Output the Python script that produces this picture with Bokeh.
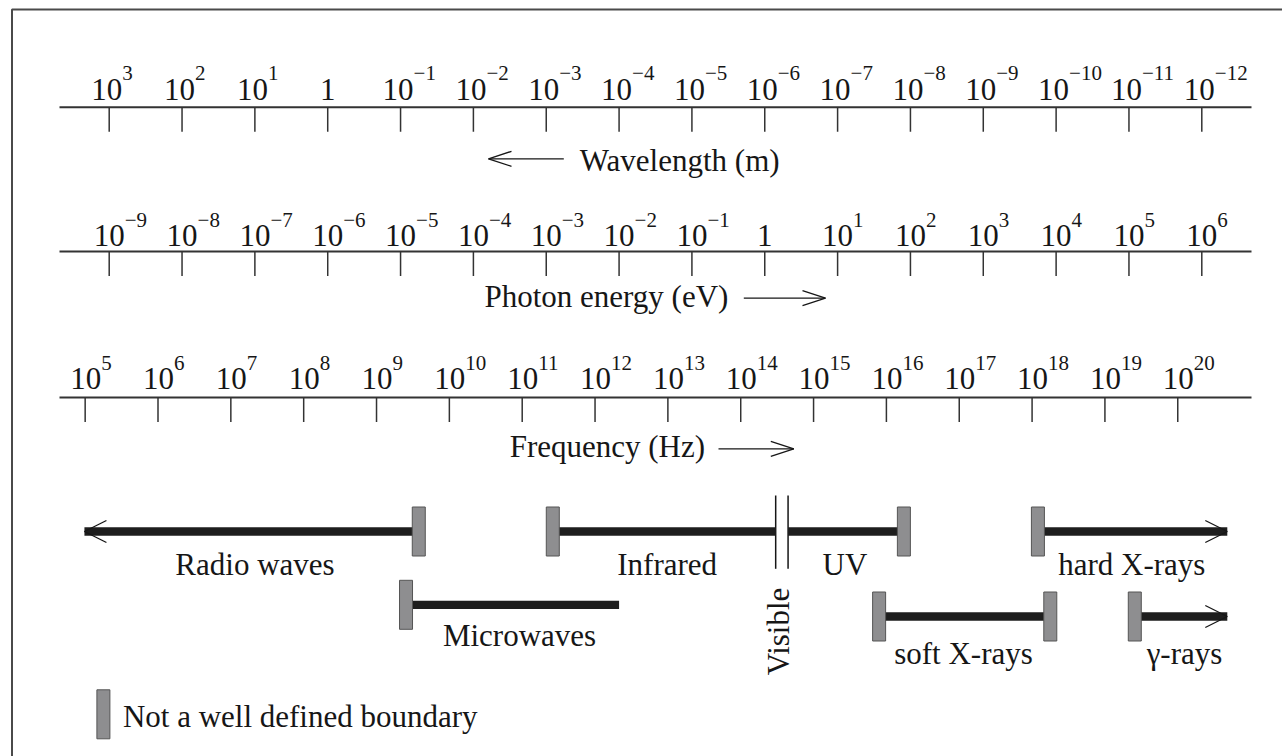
from bokeh.plotting import figure
from bokeh.models import Range1d
from bokeh.core.properties import value
from bokeh.embed import file_html
from bokeh.resources import INLINE

# ---------------------------------------------------------------- data
# Decade exponents printed along the three scales
wavelength_exponents = [3, 2, 1, 0, -1, -2, -3, -4, -5, -6, -7, -8, -9, -10, -11, -12]
energy_exponents = [-9, -8, -7, -6, -5, -4, -3, -2, -1, 0, 1, 2, 3, 4, 5, 6]
frequency_exponents = [5, 6, 7, 8, 9, 10, 11, 12, 13, 14, 15, 16, 17, 18, 19, 20]

# Scale alignment: log10 E[eV] = -log10 λ[m] - ENERGY_SHIFT,
#                  log10 f[Hz] = -log10 λ[m] + FREQ_SHIFT
ENERGY_SHIFT = 6.0
FREQ_SHIFT = 8.33

# Spectral bands, limits given as log10(wavelength / m)
band_names = ["Radio waves", "Microwaves", "Infrared", "Visible", "UV",
              "soft X-rays", "hard X-rays", "γ-rays"]
band_long_end = [3.34, -1.075, -3.09, -6.15, -6.32, -7.57, -9.75, -11.08]
band_short_end = [-1.25, -4.0, -6.15, -6.32, -7.91, -9.92, -12.35, -12.35]
# True where the limit is not a well defined boundary
band_long_fuzzy = [False, True, True, False, False, True, True, True]
band_short_fuzzy = [True, False, False, False, True, True, False, False]
# True where the band continues beyond the drawn range
band_long_open = [True, False, False, False, False, False, False, False]
band_short_open = [False, False, False, False, False, False, True, True]

# ---------------------------------------------------------------- layout
PX = 72.84                      # pixels per decade
U0 = -3.0 - 108.7 / PX          # left edge of the canvas, in decades
W, H = 1282, 756
INK = "#161616"
FONT = value("Liberation Serif")
FS_PX, SUP_PX = 31, 21
FS, FS_SUP = f"{FS_PX}px", f"{SUP_PX}px"
MID = 0.3375                    # baseline -> em-box middle, in em
SUP_RISE = 19                   # superscript baseline above the main one


def px(d):
    """Horizontal pixel distance -> decades."""
    return d / PX


def at(x):
    """Horizontal canvas pixel -> decades."""
    return U0 + x / PX


def mid(baseline, size=FS_PX):
    """Vertical centre of a line of text sitting on the given baseline."""
    return baseline - MID * size


p = figure(width=W, height=H, x_range=Range1d(U0, U0 + W / PX),
           y_range=Range1d(H, 0), output_backend="svg", toolbar_location=None,
           min_border=0, x_axis_type=None, y_axis_type=None,
           outline_line_color=None, background_fill_color="white",
           border_fill_color="white")
p.grid.visible = False

# frame (top and left rules)
p.line(x=[at(11.5), at(11.5), at(W)], y=[H, 9, 9], line_color="#4a4a4a",
       line_width=2)

AX_START, AX_END = at(59), at(1251)


def head(tip, y, direction, length, half):
    back = tip - direction * px(length)
    return [back, tip, back], [y - half, y, y + half]


def draw_scale(positions, exponents, line_y, base_y, dx):
    p.segment(x0=[AX_START], x1=[AX_END], y0=[line_y], y1=[line_y],
              line_color="#333333", line_width=2)
    p.segment(x0=positions, x1=positions, y0=[line_y] * len(positions),
              y1=[line_y + 24.5] * len(positions), line_color="#333333",
              line_width=1.5)
    base_x, base_t, sup_x, sup_t = [], [], [], []
    for u, e in zip(positions, exponents):
        if e == 0:
            base_x.append(u)
            base_t.append("1")
            continue
        base_x.append(u + px(dx))
        base_t.append("10")
        sup_x.append(u + px(dx + 15.5))
        sup_t.append(str(e).replace("-", "\u2212"))
    p.text(x=base_x, y=[mid(base_y)] * len(base_x), text=base_t,
           text_font=FONT, text_font_size=FS, text_align="center",
           text_baseline="middle", text_color=INK)
    p.text(x=sup_x, y=[mid(base_y - SUP_RISE, SUP_PX)] * len(sup_x),
           text=sup_t, text_font=FONT, text_font_size=FS_SUP,
           text_align="left", text_baseline="middle", text_color=INK)


wl_u = [-e for e in wavelength_exponents]
en_u = [e + ENERGY_SHIFT for e in energy_exponents]
fr_u = [e - FREQ_SHIFT for e in frequency_exponents]

draw_scale(wl_u, wavelength_exponents, 106.7, 99, -2.5)
draw_scale(en_u, energy_exponents, 251, 245.7, 0)
draw_scale(fr_u, frequency_exponents, 397, 388.3, 0.5)

# scale titles with direction arrows
titles = ["Wavelength (m)", "Photon energy (eV)", "Frequency (Hz)"]
title_u = [at(679.2), at(605.9), at(606.9)]
title_base = [170, 306.7, 456.7]
p.text(x=title_u, y=[mid(b) for b in title_base], text=titles, text_font=FONT,
       text_font_size=FS, text_align="center", text_baseline="middle",
       text_color=INK)

arrow_tail = [at(563.3), at(743.3), at(718)]
arrow_tip = [at(488), at(825), at(793.3)]
arrow_y = [158.3, 297.7, 448.3]
xs, ys = [], []
for t0, t1, y in zip(arrow_tail, arrow_tip, arrow_y):
    xs.append([t0, t1])
    ys.append([y, y])
    hx, hy = head(t1, y, 1 if t1 > t0 else -1, 23, 7.5)
    xs.append(hx)
    ys.append(hy)
p.multi_line(xs=xs, ys=ys, line_color=INK, line_width=1.3)

# ---------------------------------------------------------------- bands
row_y = [531, 604.3, 531, 531, 531, 616, 531, 616]
label_u = [at(254.5), at(519), at(666.7), at(778), at(844.5), at(963),
           at(1131.3), at(1184)]
label_base = [574, 645, 574, None, 574, 663, 574, 663]

bar_x0, bar_x1, bar_y = [], [], []
mark_x, mark_y = [], []
hx_all, hy_all = [], []
for i, name in enumerate(band_names):
    u_long, u_short = -band_long_end[i], -band_short_end[i]
    y = row_y[i]
    if name == "Visible":
        p.segment(x0=[u_long, u_short], x1=[u_long, u_short], y0=[495, 495],
                  y1=[568.3, 568.3], line_color=INK, line_width=1.5)
        continue
    bar_x0.append(u_long)
    bar_x1.append(u_short)
    bar_y.append(y)
    if band_long_fuzzy[i]:
        mark_x.append(u_long)
        mark_y.append(y)
    if band_short_fuzzy[i]:
        mark_x.append(u_short)
        mark_y.append(y)
    if band_long_open[i]:
        hx, hy = head(u_long, y, -1, 22, 11)
        hx_all.append(hx)
        hy_all.append(hy)
    if band_short_open[i]:
        hx, hy = head(u_short, y, 1, 22, 11)
        hx_all.append(hx)
        hy_all.append(hy)

p.segment(x0=bar_x0, x1=bar_x1, y0=bar_y, y1=bar_y, line_color="#1e1e1e",
          line_width=8.3, line_cap="butt")
p.multi_line(xs=hx_all, ys=hy_all, line_color=INK, line_width=1.3)

# fuzzy-boundary markers, plus the key marker
mark_x.append(at(102.9))
mark_y.append(713.8)
p.rect(x=mark_x, y=mark_y, width=13, height=49, width_units="screen",
       height_units="screen", fill_color="#8e8e90", line_color="#555555",
       line_width=1)

flat = [i for i, n in enumerate(band_names) if n != "Visible"]
p.text(x=[label_u[i] for i in flat], y=[mid(label_base[i]) for i in flat],
       text=[band_names[i] for i in flat], text_font=FONT, text_font_size=FS,
       text_align="center", text_baseline="middle", text_color=INK)
vis = band_names.index("Visible")
p.text(x=[label_u[vis]], y=[631], text=[band_names[vis]],
       angle=1.5707963, text_font=FONT, text_font_size=FS,
       text_align="center", text_baseline="middle", text_color=INK)

# key
p.text(x=[at(122.4)], y=[mid(726.7)], text=["Not a well defined boundary"],
       text_font=FONT, text_font_size=FS, text_align="left",
       text_baseline="middle", text_color=INK)

open("out.html", "w").write(file_html(p, INLINE))
